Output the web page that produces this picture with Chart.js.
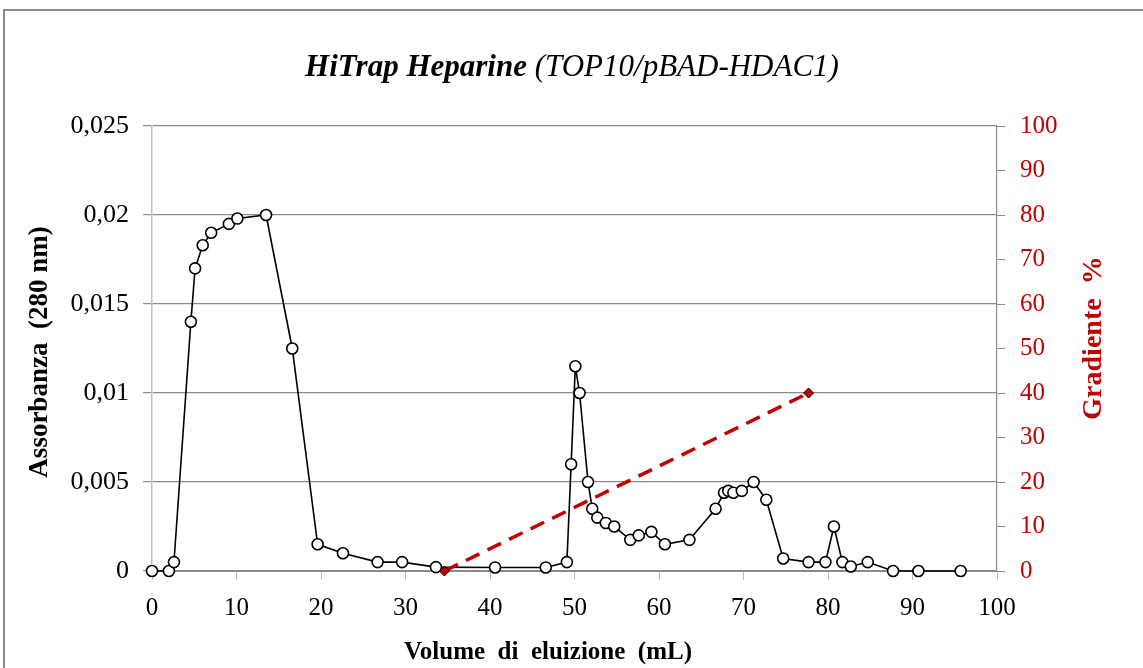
<!DOCTYPE html>
<html>
<head>
<meta charset="utf-8">
<script src="https://cdn.jsdelivr.net/npm/chart.js@4"></script>
<style>
  html, body { margin: 0; padding: 0; background: #fff; }
  #wrap { width: 1143px; height: 668px; position: relative; }
</style>
</head>
<body>
<div id="wrap"><canvas id="chart"></canvas></div>
<script>
// volume (mL) and absorbance at 280 nm
const volume = [0, 2.0, 2.6, 4.6, 5.1, 6.0, 7.0, 9.1, 10.1, 13.5, 16.6, 19.6, 22.6, 26.7, 29.6, 33.6,
  40.6, 46.6, 49.1, 49.6, 50.1, 50.6, 51.6, 52.1, 52.7, 53.7, 54.7, 56.6, 57.6, 59.1, 60.7, 63.6,
  66.7, 67.7, 68.2, 68.8, 69.8, 71.2, 72.7, 74.7, 77.7, 79.7, 80.7, 81.7, 82.7, 84.7, 87.7, 90.7, 95.7];
const absorbance = [0, 0, 0.0005, 0.014, 0.017, 0.0183, 0.019, 0.0195, 0.0198, 0.02, 0.0125, 0.0015, 0.001, 0.0005, 0.0005, 0.00022,
  0.0002, 0.0002, 0.0005, 0.006, 0.0115, 0.01, 0.005, 0.0035, 0.003, 0.0027, 0.0025, 0.00175, 0.002, 0.0022, 0.0015, 0.00175,
  0.0035, 0.0044, 0.0045, 0.0044, 0.0045, 0.005, 0.004, 0.0007, 0.0005, 0.0005, 0.0025, 0.0005, 0.00025, 0.0005, 0, 0, 0];

// gradient (%)
const gradVolume = [34.6, 77.7];
const gradient = [0, 40];

const titleBold = "HiTrap Heparine";
const titleRest = " (TOP10/pBAD-HDAC1)";
const yTitle = "Assorbanza  (280 nm)";
const y1Title = "Gradiente  %";
const xTitle = "Volume  di  eluizione  (mL)";

const FONT = "'Liberation Serif', 'Times New Roman', serif";
const RED = "#c00000";

function rotatedText(ctx, text, x, y, font, color) {
  ctx.save();
  ctx.translate(x, y);
  ctx.rotate(-Math.PI / 2);
  ctx.textAlign = "center";
  ctx.textBaseline = "middle";
  ctx.font = font;
  ctx.fillStyle = color;
  ctx.fillText(text, 0, 0);
  ctx.restore();
}

const decorations = {
  id: "decorations",
  beforeDraw(chart) {
    const ctx = chart.ctx;
    ctx.save();
    ctx.fillStyle = "#fff";
    ctx.fillRect(0, 0, chart.width, chart.height);
    ctx.strokeStyle = "#8a8a8a";
    ctx.lineWidth = 2;
    ctx.beginPath();
    ctx.moveTo(4, chart.height);
    ctx.lineTo(4, 10);
    ctx.lineTo(chart.width, 10);
    ctx.stroke();
    ctx.restore();
  },
  afterDraw(chart) {
    const ctx = chart.ctx;
    ctx.save();
    // title
    const f1 = "italic bold 31px " + FONT;
    const f2 = "italic 31px " + FONT;
    ctx.font = f1;
    const w1 = ctx.measureText(titleBold).width;
    ctx.font = f2;
    const w2 = ctx.measureText(titleRest).width;
    const x0 = 572 - (w1 + w2) / 2;
    ctx.fillStyle = "#000";
    ctx.textBaseline = "middle";
    ctx.textAlign = "left";
    ctx.font = f1;
    ctx.fillText(titleBold, x0, 68);
    ctx.font = f2;
    ctx.fillText(titleRest, x0 + w1, 68);
    // x axis title
    ctx.textAlign = "center";
    ctx.font = "bold 25px " + FONT;
    ctx.fillText(xTitle, 548, 653);
    ctx.restore();
    // axis titles, reading bottom to top
    rotatedText(ctx, yTitle, 40, 352, "bold 27px " + FONT, "#000");
    rotatedText(ctx, y1Title, 1094, 338, "bold 28px " + FONT, RED);
  }
};

new Chart(document.getElementById("chart"), {
  type: "scatter",
  data: {
    datasets: [
      {
        label: "Assorbanza",
        data: volume.map((v, i) => ({ x: v, y: absorbance[i] })),
        yAxisID: "y",
        showLine: true,
        borderColor: "#000",
        borderWidth: 1.6,
        pointRadius: 5.5,
        pointHoverRadius: 5.5,
        pointBackgroundColor: "#fff",
        pointBorderColor: "#000",
        pointBorderWidth: 1.6,
        clip: false,
        order: 1,
      },
      {
        label: "Gradiente",
        data: gradVolume.map((v, i) => ({ x: v, y: gradient[i] })),
        yAxisID: "y1",
        showLine: true,
        borderColor: RED,
        borderWidth: 3.5,
        borderDash: [15, 9],
        pointStyle: "rectRot",
        pointRadius: 5,
        pointHoverRadius: 5,
        pointBackgroundColor: RED,
        pointBorderColor: "#000",
        pointBorderWidth: 1,
        clip: false,
        order: 0,
      },
    ],
  },
  options: {
    responsive: true,
    maintainAspectRatio: false,
    animation: false,
    events: [],
    layout: { padding: { top: 126, left: 0, right: 0, bottom: 0 } },
    plugins: { legend: { display: false }, tooltip: { enabled: false } },
    scales: {
      x: {
        type: "linear",
        min: 0,
        max: 100,
        ticks: { stepSize: 10, color: "#000", padding: 13, font: { family: FONT, size: 25 } },
        grid: { drawOnChartArea: false, tickLength: 9, color: "#bdbdbd" },
        border: { color: "#8a8a8a" },
        afterFit(s) { s.height = 97; },
      },
      y: {
        position: "left",
        min: 0,
        max: 0.025,
        ticks: {
          stepSize: 0.005,
          color: "#000",
          padding: 14,
          font: { family: FONT, size: 26 },
          callback: (v) => String(+v.toFixed(3)).replace(".", ","),
        },
        grid: { color: "#8a8a8a", tickLength: 9, lineWidth: 1.2 },
        border: { color: "#c0c0c0", width: 1.5 },
        afterFit(s) { s.width = 152; },
      },
      y1: {
        position: "right",
        min: 0,
        max: 100,
        ticks: { stepSize: 10, color: RED, padding: 15, font: { family: FONT, size: 25 } },
        grid: { drawOnChartArea: false, tickLength: 8, color: "#8a8a8a" },
        border: { color: "#8a8a8a", width: 1.2 },
        afterFit(s) { s.width = 146; },
      },
    },
  },
  plugins: [decorations],
});
</script>
</body>
</html>
